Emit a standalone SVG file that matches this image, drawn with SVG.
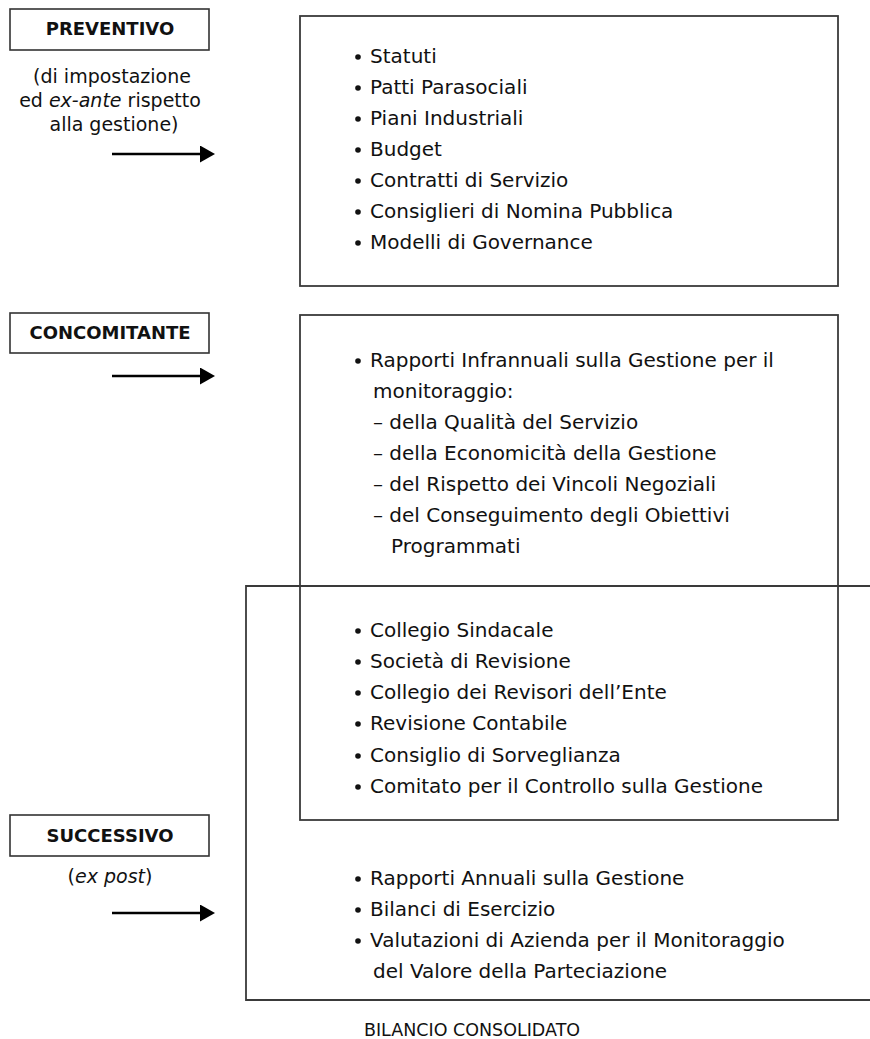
<svg xmlns="http://www.w3.org/2000/svg" width="870" height="1039" viewBox="0 0 870 1039">
<style>
  .lbl{fill:#fff;stroke:#333;stroke-width:1.6}
  .box{fill:none;stroke:#3a3a3a;stroke-width:1.8}
  .h{font-family:"DejaVu Sans",sans-serif;font-weight:bold;font-size:18px;fill:#111;text-anchor:middle}
  .p{font-family:"DejaVu Sans",sans-serif;font-size:19px;fill:#111;text-anchor:middle}
  .t{font-family:"DejaVu Sans",sans-serif;font-size:20px;fill:#111}
  .f{font-family:"DejaVu Sans",sans-serif;font-size:17.5px;fill:#111;text-anchor:middle}
  .b{fill:#111}
  .arr{stroke:#000;stroke-width:2.6;fill:none}
</style>
<defs>
  <marker id="ah" markerUnits="userSpaceOnUse" markerWidth="15" markerHeight="17" viewBox="0 0 15 17" refX="1" refY="8.5" orient="auto">
    <path d="M0,0 L15,8.5 L0,17 Z" fill="#000"/>
  </marker>
</defs>

<g id="label-preventivo">
  <rect class="lbl" x="10" y="9" width="199" height="41"/>
  <text class="h" x="110" y="35">PREVENTIVO</text>
  <text class="p" x="112" y="83">(di impostazione</text>
  <text class="p" x="110" y="107">ed <tspan font-style="italic">ex-ante</tspan> rispetto</text>
  <text class="p" x="114" y="131">alla gestione)</text>
</g>

<g id="label-concomitante">
  <rect class="lbl" x="10" y="313" width="199" height="40"/>
  <text class="h" x="110" y="339">CONCOMITANTE</text>
</g>

<g id="label-successivo">
  <rect class="lbl" x="10" y="815" width="199" height="41"/>
  <text class="h" x="110" y="842">SUCCESSIVO</text>
  <text class="p" x="110" y="883">(<tspan font-style="italic">ex post</tspan>)</text>
</g>

<g id="box-preventivo">
  <rect class="box" x="300" y="16" width="538" height="270"/>
  <circle class="b" cx="358" cy="57" r="2.8"/><text class="t" x="370" y="63">Statuti</text>
  <circle class="b" cx="358" cy="88" r="2.8"/><text class="t" x="370" y="94">Patti Parasociali</text>
  <circle class="b" cx="358" cy="119" r="2.8"/><text class="t" x="370" y="125">Piani Industriali</text>
  <circle class="b" cx="358" cy="150" r="2.8"/><text class="t" x="370" y="156">Budget</text>
  <circle class="b" cx="358" cy="181" r="2.8"/><text class="t" x="370" y="187">Contratti di Servizio</text>
  <circle class="b" cx="358" cy="212" r="2.8"/><text class="t" x="370" y="218">Consiglieri di Nomina Pubblica</text>
  <circle class="b" cx="358" cy="243" r="2.8"/><text class="t" x="370" y="249">Modelli di Governance</text>
</g>

<g id="box-concomitante">
  <rect class="box" x="300" y="315" width="538" height="505"/>
  <circle class="b" cx="358" cy="361" r="2.8"/><text class="t" x="370" y="367">Rapporti Infrannuali sulla Gestione per il</text>
  <text class="t" x="373" y="398">monitoraggio:</text>
  <text class="t" x="373" y="429">– della Qualità del Servizio</text>
  <text class="t" x="373" y="460">– della Economicità della Gestione</text>
  <text class="t" x="373" y="491">– del Rispetto dei Vincoli Negoziali</text>
  <text class="t" x="373" y="522">– del Conseguimento degli Obiettivi</text>
  <text class="t" x="391" y="553">Programmati</text>
  <circle class="b" cx="358" cy="631" r="2.8"/><text class="t" x="370" y="637">Collegio Sindacale</text>
  <circle class="b" cx="358" cy="662" r="2.8"/><text class="t" x="370" y="668">Società di Revisione</text>
  <circle class="b" cx="358" cy="693" r="2.8"/><text class="t" x="370" y="699">Collegio dei Revisori dell’Ente</text>
  <circle class="b" cx="358" cy="724" r="2.8"/><text class="t" x="370" y="730">Revisione Contabile</text>
  <circle class="b" cx="358" cy="756" r="2.8"/><text class="t" x="370" y="762">Consiglio di Sorveglianza</text>
  <circle class="b" cx="358" cy="787" r="2.8"/><text class="t" x="370" y="793">Comitato per il Controllo sulla Gestione</text>
</g>

<g id="box-successivo">
  <path class="box" d="M870,586 H246 V1000 H870"/>
  <circle class="b" cx="358" cy="879" r="2.8"/><text class="t" x="370" y="885">Rapporti Annuali sulla Gestione</text>
  <circle class="b" cx="358" cy="910" r="2.8"/><text class="t" x="370" y="916">Bilanci di Esercizio</text>
  <circle class="b" cx="358" cy="941" r="2.8"/><text class="t" x="370" y="947">Valutazioni di Azienda per il Monitoraggio</text>
  <text class="t" x="373" y="978">del Valore della Parteciazione</text>
</g>

<g id="footer">
  <text class="f" x="472" y="1036">BILANCIO CONSOLIDATO</text>
</g>

<g id="connectors">
  <line class="arr" x1="112" y1="154" x2="201" y2="154" marker-end="url(#ah)"/>
  <line class="arr" x1="112" y1="376" x2="201" y2="376" marker-end="url(#ah)"/>
  <line class="arr" x1="112" y1="913" x2="201" y2="913" marker-end="url(#ah)"/>
</g>
</svg>
